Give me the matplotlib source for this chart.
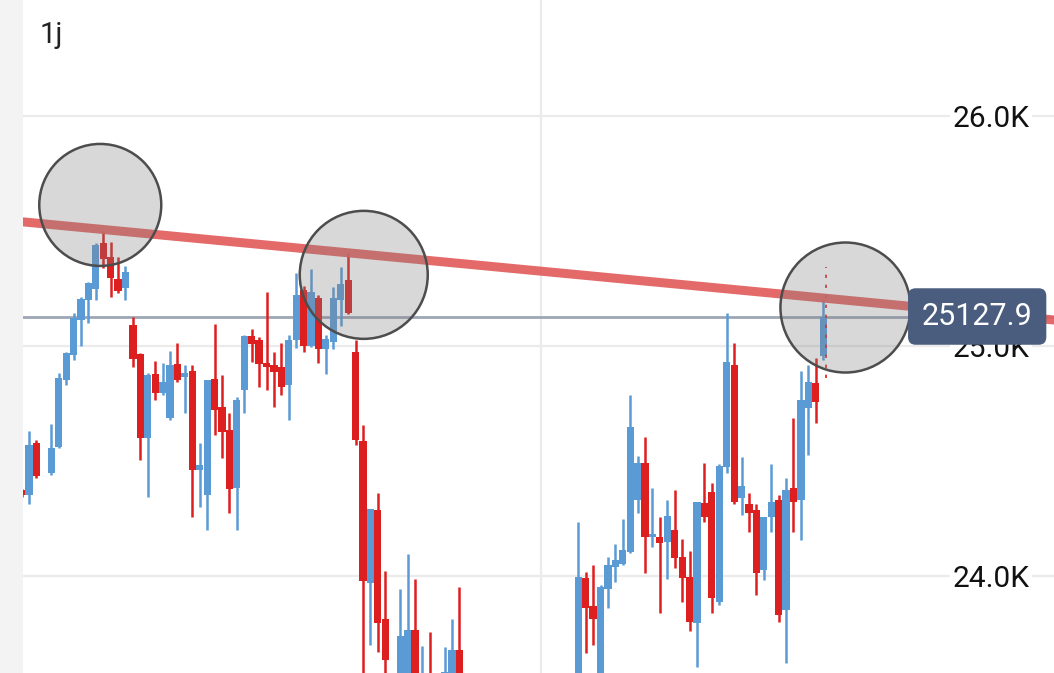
"""
Kerzenchart (1 Tag) mit Widerstandslinie und markierten Berührungspunkten.
"""

import numpy as np
import matplotlib.pyplot as plt

# Kursdaten pro Kerze (NaN = keine Kerze)
open_ = [24374, 24352, 24578, np.nan, 24448, 24561, 24852, 24961, 25113, 25200,
         25248, 25448, 25387, 25291, 25252, 25091, 24965, 24600, 24878, 24796,
         24687, 24922, 24865, 24891, 24461, 24352, 24857, 24735, 24635, 24383,
         24809, 25043, 25026, 24926, 24917, 24909, 24830, 25026, 25243, 25000,
         25209, 24987, 25017, 25200, 25287, 24974, 24587, 23970, 24287, 23813,
         23500, 23450, 23480, 23765, 23450, 23550, 23450, 23480, 23500, 23678,
         23500, 23350, 23200, 23280, 23100, 22950, 23080, 23200, 23120, 23250,
         23350, 23280, 23400, 23460, 23380, 23470, 23991, 23870, 23520, 23943,
         24039, 24052, 24104, 24330, 24491, 24170, 24170, 24148, 24200, 24083,
         23996, 23796, 24317, 24365, 23887, 24474, 24917, 24339, 24313, 24287,
         24026, 24257, 24330, 23852, 24383, 24330, 24730, 24839, 24957]
high = [24380, 24630, 24591, np.nan, 24661, 24883, 24974, 25143, 25213, 25278,
        25448, 25500, 25452, 25387, 25348, 25126, 24970, 24883, 24935, 24926,
        24978, 25013, 24917, 24917, 24578, 24852, 25096, 24874, 24709, 24778,
        25048, 25074, 25039, 25235, 24974, 25013, 25048, 25317, 25261, 25335,
        25222, 25048, 25257, 25343, 25404, 25026, 24657, 24291, 24361, 24022,
        23540, 23943, 24096, 23987, 23696, 23757, 23560, 23691, 23813, 23952,
        23540, 23400, 23320, 23300, 23150, 23120, 23250, 23260, 23300, 23400,
        23420, 23450, 23520, 23500, 23540, 24235, 24017, 24048, 23961, 24083,
        24139, 24248, 24787, 24522, 24604, 24383, 24257, 24330, 24374, 24161,
        24109, 24322, 24491, 24404, 24487, 25143, 25013, 24517, 24361, 24313,
        24257, 24487, 24352, 24426, 24687, 24891, 24917, 24948, 25200]
low = [24345, 24313, 24426, np.nan, 24439, 24557, 24830, 24939, 25000, 25100,
       25200, 25339, 25213, 25230, 25200, 24909, 24504, 24343, 24765, 24787,
       24678, 24843, 24709, 24257, 24300, 24200, 24613, 24513, 24274, 24200,
       24709, 24930, 24822, 24809, 24735, 24787, 24678, 24991, 24974, 24996,
       24926, 24878, 24987, 25087, 25139, 24570, 23504, 23700, 23670, 23504,
       23380, 23400, 23420, 23450, 23400, 23380, 23400, 23440, 23460, 23420,
       23300, 23150, 23120, 23050, 22900, 22900, 23050, 23080, 23100, 23200,
       23240, 23250, 23360, 23340, 23340, 23420, 23665, 23700, 23480, 23861,
       23974, 24048, 24100, 24274, 24013, 24126, 23839, 23987, 24035, 23887,
       23761, 23604, 24235, 23839, 23874, 24448, 24313, 24265, 24191, 23917,
       23983, 24191, 23800, 23622, 24191, 24157, 24526, 24665, 24939]
close = [24352, 24570, 24435, np.nan, 24557, 24861, 24970, 25122, 25204, 25274,
         25439, 25378, 25296, 25239, 25322, 24943, 24600, 24874, 24796, 24843,
         24917, 24852, 24883, 24461, 24483, 24852, 24722, 24626, 24378, 24765,
         25043, 25009, 24922, 24909, 24887, 24822, 25026, 25222, 25000, 25235,
         24987, 25030, 25209, 25270, 25143, 24591, 23978, 24291, 23796, 23635,
         23420, 23739, 23765, 23500, 23560, 23430, 23520, 23583, 23678, 23500,
         23350, 23200, 23280, 23100, 22950, 23080, 23200, 23120, 23250, 23350,
         23280, 23400, 23460, 23380, 23450, 23996, 23861, 23813, 23952, 24048,
         24070, 24113, 24648, 24491, 24170, 24183, 24143, 24261, 24078, 23991,
         23800, 24322, 24257, 23904, 24478, 24930, 24322, 24391, 24274, 24013,
         24257, 24322, 23830, 24374, 24322, 24765, 24843, 24757, 25127.9]

last_price = 25127.9
y_ticks = [24000, 25000, 26000]

# Widerstandslinie (Kerzenindex, Kurs)
trend_x = [0, 140]
trend_y = [25540, 25110]

# Markierte Berührungspunkte: Kerzenindex, Kurs, Radius in Pixel
touch_x = [10.6, 46.1, 111.0]
touch_y = [25613, 25309, 25167]
touch_r = [61, 64, 65]

BLUE = '#5b9bd5'
RED = '#de1f1f'

plt.rcParams['font.family'] = ['Roboto', 'DejaVu Sans']

fig = plt.figure(figsize=(10.54, 6.73), dpi=100, facecolor='#f3f3f3')
ax = fig.add_axes([23 / 1054, 0, 1 - 23 / 1054, 1])
ax.set_facecolor('white')

o = np.array(open_, dtype=float)
h = np.array(high, dtype=float)
l = np.array(low, dtype=float)
c = np.array(close, dtype=float)
idx = np.arange(len(o))
ok = ~np.isnan(o)
up = c >= o
colors = np.where(up, BLUE, RED)

# Dochte und Körper
ax.vlines(idx[ok], l[ok], h[ok], colors=colors[ok], linewidth=1.8, zorder=2)
body_bottom = np.minimum(o, c)
body_height = np.maximum(np.abs(c - o), 8)
ax.bar(idx[ok], body_height[ok], bottom=body_bottom[ok], width=0.97,
       color=colors[ok], linewidth=0, zorder=2)

# aktuelle Kerze: rote gestrichelte Linie
ax.vlines(idx[-1] + 0.4, 24861, 25345, colors=RED, linewidth=1.2,
          linestyles=(0, (2, 4)), zorder=2)

# Linie des aktuellen Kurses
ax.axhline(last_price, color='#9ea6b6', linewidth=2.0, zorder=1)

# Widerstandslinie
ax.plot(trend_x, trend_y, color='#e25c5c', linewidth=6.5, alpha=0.92,
        solid_capstyle='butt', zorder=3)

# Kreise (Radius in Pixel -> Markergröße in pt^2)
sizes = [(2 * r * 72 / 100) ** 2 for r in touch_r]
ax.scatter(touch_x, touch_y, s=sizes, facecolors=(0.5, 0.5, 0.5, 0.3),
           edgecolors='#4d4d4d', linewidths=1.8, zorder=4)

# Achsen
ax.set_xlim(0.19, 139.1)
ax.set_ylim(23578, 26504)
ax.set_xticks([70])
ax.set_yticks(y_ticks)
ax.set_yticklabels([f'{v / 1000:.1f}K' for v in y_ticks])
ax.tick_params(axis='x', length=0, labelbottom=False)
ax.tick_params(axis='y', length=0, labelleft=False, labelright=True,
               pad=-73, labelsize=21.5, labelcolor='#111111')
for lbl in ax.get_yticklabels():
    lbl.set_bbox(dict(facecolor='white', edgecolor='none', pad=2))
ax.grid(True, color='#ebebeb', linewidth=1.6)
ax.set_axisbelow(True)
for s in ax.spines.values():
    s.set_visible(False)

# Kurs-Label rechts
ax.text(0.9255, last_price, f'{last_price:.1f}', transform=ax.get_yaxis_transform(),
        ha='center', va='center', fontsize=22, color='white', zorder=10,
        bbox=dict(boxstyle='round,pad=0.45,rounding_size=0.25',
                  facecolor='#4b5d7e', edgecolor='none'))

fig.text(40 / 1054, 1 - 43 / 673, '1j', fontsize=21, color='#222222',
         va='baseline', ha='left')

fig.savefig('out.png', dpi=100, facecolor=fig.get_facecolor())
